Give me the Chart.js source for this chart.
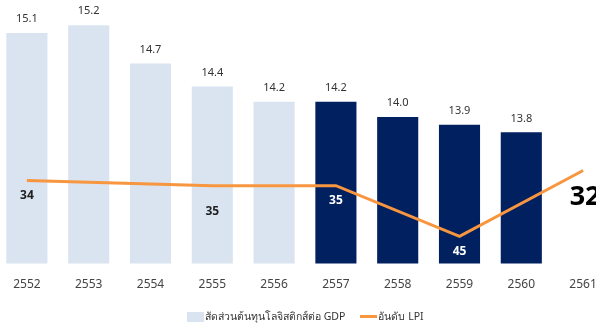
<!DOCTYPE html>
<html>
<head>
<meta charset="utf-8">
<script src="https://cdn.jsdelivr.net/npm/chart.js@4.4.1/dist/chart.umd.min.js"></script>
<style>
  html, body { margin: 0; padding: 0; background: #fff; overflow: hidden; }
  body { width: 596px; height: 324px; position: relative; font-family: 'Noto Sans', 'Open Sans', sans-serif; }
  #wrap { position: absolute; left: -4px; top: 0; width: 618px; height: 311px; }
  #legend { position: absolute; left: 187px; top: 308px; display: flex; align-items: center; font-size: 10.5px; color: #333; }
  #legend .item { display: flex; align-items: center; margin-right: 15px; }
  #legend .box { width: 17px; height: 10px; margin-right: 1px; }
  #legend .line { width: 17px; height: 3px; margin-right: 1px; }
</style>
</head>
<body>
<div id="wrap"><canvas id="costChart"></canvas></div>
<div id="legend"></div>

<script>
const years = ['2552', '2553', '2554', '2555', '2556', '2557', '2558', '2559', '2560', '2561'];
const costShare = [15.1, 15.2, 14.7, 14.4, 14.2, 14.2, 14.0, 13.9, 13.8, null];
const lpiRank = [34, null, null, 35, null, 35, null, 45, null, 32];

const LIGHT = '#DAE4F1';
const NAVY = '#002060';
const ORANGE = '#F7963F';

// first five years are light, the rest navy
const barColors = years.map((y, i) => i < 5 ? LIGHT : NAVY);

const valueLabels = {
    id: 'valueLabels',
    afterDatasetsDraw(chart) {
        const ctx = chart.ctx;
        ctx.save();
        ctx.textAlign = 'center';
        ctx.textBaseline = 'middle';

        // bar values above each bar
        const bars = chart.getDatasetMeta(0).data;
        ctx.font = '11px "Noto Sans", sans-serif';
        ctx.fillStyle = '#333';
        bars.forEach((bar, i) => {
            if (costShare[i] == null) return;
            ctx.fillText(costShare[i].toFixed(1), bar.x, bar.y - 14);
        });

        // LPI rank under each point
        const pts = chart.getDatasetMeta(1).data;
        pts.forEach((pt, i) => {
            const v = lpiRank[i];
            if (v == null) return;
            if (i === years.length - 1) {
                ctx.font = 'bold 27px "Noto Sans", sans-serif';
                ctx.fillStyle = '#000';
                ctx.fillText(v, pt.x + 2, pt.y + 27);
                return;
            }
            ctx.font = 'bold 12px "Noto Sans", sans-serif';
            ctx.fillStyle = i >= 5 ? '#fff' : '#222';
            const dy = i === 3 ? 26 : 15;
            ctx.fillText(v, pt.x, pt.y + dy);
        });
        ctx.restore();
    }
};

const chart = new Chart(document.getElementById('costChart'), {
    type: 'bar',
    data: {
        labels: years,
        datasets: [
            {
                label: 'สัดส่วนต้นทุนโลจิสติกส์ต่อ GDP',
                data: costShare,
                backgroundColor: barColors,
                barPercentage: 0.665,
                categoryPercentage: 1,
                yAxisID: 'y',
                order: 2
            },
            {
                type: 'line',
                label: 'อันดับ LPI',
                data: lpiRank,
                borderColor: ORANGE,
                backgroundColor: ORANGE,
                borderWidth: 3,
                pointRadius: 0,
                tension: 0,
                spanGaps: true,
                yAxisID: 'y1',
                order: 1
            }
        ]
    },
    options: {
        responsive: true,
        maintainAspectRatio: false,
        animation: false,
        layout: { padding: { top: 0, bottom: 5, left: 0, right: 0 } },
        plugins: {
            legend: { display: false },
            tooltip: { enabled: false }
        },
        scales: {
            x: {
                grid: { display: false, drawTicks: false },
                border: { display: false },
                ticks: {
                    color: '#444',
                    padding: 14,
                    font: { size: 12, family: '"Noto Sans", sans-serif' }
                }
            },
            y: {
                display: false,
                min: 12.085,
                max: 15.53
            },
            y1: {
                display: false,
                reverse: true,
                min: -1.7,
                max: 50.4
            }
        }
    },
    plugins: [valueLabels]
});

// legend below the chart
const legend = document.getElementById('legend');
chart.data.datasets.forEach((ds, i) => {
    const item = document.createElement('div');
    item.className = 'item';
    const mark = document.createElement('span');
    mark.className = i === 0 ? 'box' : 'line';
    mark.style.background = i === 0 ? LIGHT : ORANGE;
    const text = document.createElement('span');
    text.textContent = ds.label;
    item.appendChild(mark);
    item.appendChild(text);
    legend.appendChild(item);
});
</script>
</body>
</html>
